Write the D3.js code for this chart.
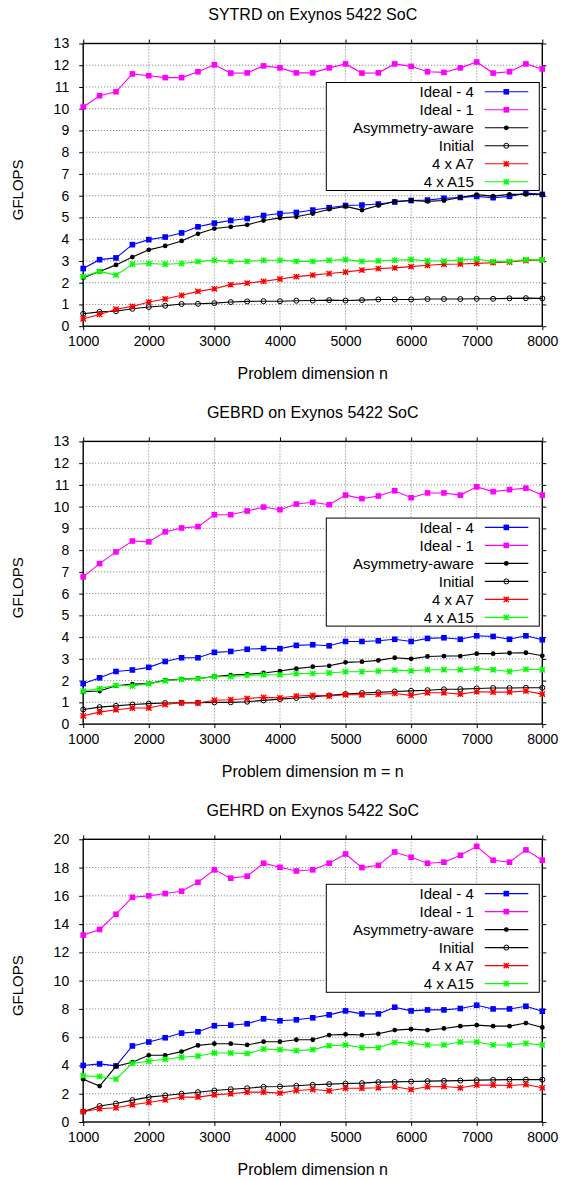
<!DOCTYPE html>
<html>
<head>
<meta charset="utf-8">
<script src="https://cdn.jsdelivr.net/npm/d3@7"></script>
<style>
  body { margin: 0; background: #fff; }
  svg { display: block; font-family: 'Liberation Sans', Arial, Helvetica, sans-serif; }
  .grid line { stroke: #777; stroke-dasharray: 1,2; stroke-width: 1; }
</style>
</head>
<body>
<svg id="chart" width="565" height="1179"></svg>
<script>
// problem dimension (x axis), shared by all three panels
const dims = [1000, 1250, 1500, 1750, 2000, 2250, 2500, 2750, 3000, 3250, 3500, 3750, 4000, 4250,
  4500, 4750, 5000, 5250, 5500, 5750, 6000, 6250, 6500, 6750, 7000, 7250, 7500, 7750, 8000];

const seriesNames = ['Ideal - 4', 'Ideal - 1', 'Asymmetry-aware', 'Initial', '4 x A7', '4 x A15'];

// SYTRD
const sytrdIdeal4 = [2.65, 3.06, 3.14, 3.75, 3.98, 4.1, 4.29, 4.57, 4.74, 4.86, 4.95, 5.09, 5.18, 5.23,
  5.34, 5.45, 5.55, 5.57, 5.62, 5.71, 5.78, 5.8, 5.88, 5.92, 5.97, 5.91, 5.97, 6.12, 6.06];
const sytrdIdeal1 = [10.08, 10.6, 10.78, 11.6, 11.52, 11.43, 11.43, 11.7, 12.02, 11.64, 11.65, 11.97, 11.88, 11.65,
  11.65, 11.88, 12.06, 11.64, 11.65, 12.06, 11.95, 11.7, 11.67, 11.88, 12.15, 11.64, 11.7, 12.06, 11.83];
const sytrdAsym = [2.23, 2.52, 2.82, 3.18, 3.51, 3.69, 3.92, 4.25, 4.49, 4.57, 4.66, 4.86, 4.98, 5.03,
  5.18, 5.38, 5.51, 5.34, 5.55, 5.74, 5.78, 5.74, 5.78, 5.92, 6.05, 5.98, 6.06, 6.06, 6.06];
const sytrdInitial = [0.57, 0.66, 0.69, 0.8, 0.88, 0.94, 1.02, 1.03, 1.06, 1.11, 1.14, 1.15, 1.15, 1.17,
  1.18, 1.2, 1.18, 1.2, 1.23, 1.23, 1.23, 1.25, 1.25, 1.25, 1.26, 1.26, 1.28, 1.29, 1.28];
const sytrdA7 = [0.34, 0.54, 0.78, 0.91, 1.11, 1.25, 1.42, 1.6, 1.72, 1.91, 1.98, 2.06, 2.17, 2.28,
  2.35, 2.42, 2.49, 2.58, 2.65, 2.68, 2.74, 2.8, 2.85, 2.86, 2.89, 2.92, 2.95, 3.02, 3.05];
const sytrdA15 = [2.28, 2.52, 2.35, 2.85, 2.88, 2.85, 2.88, 2.97, 3.03, 2.97, 2.98, 3.03, 3.03, 2.98,
  2.98, 3.03, 3.06, 2.98, 3.0, 3.03, 3.06, 3.01, 3.0, 3.05, 3.09, 2.97, 2.98, 3.06, 3.05];

// GEBRD
const gebrdIdeal4 = [1.86, 2.13, 2.42, 2.49, 2.61, 2.88, 3.05, 3.05, 3.3, 3.34, 3.44, 3.48, 3.47, 3.62,
  3.65, 3.6, 3.8, 3.8, 3.83, 3.9, 3.8, 3.94, 3.97, 3.9, 4.06, 4.03, 3.9, 4.06, 3.88];
const gebrdIdeal1 = [6.77, 7.38, 7.92, 8.42, 8.38, 8.84, 9.02, 9.08, 9.63, 9.63, 9.8, 9.98, 9.86, 10.12,
  10.2, 10.09, 10.53, 10.37, 10.49, 10.73, 10.41, 10.63, 10.63, 10.53, 10.91, 10.69, 10.78, 10.85, 10.53];
const gebrdAsym = [1.49, 1.52, 1.76, 1.84, 1.86, 2.01, 2.07, 2.1, 2.19, 2.25, 2.29, 2.35, 2.44, 2.55,
  2.64, 2.68, 2.84, 2.87, 2.93, 3.05, 3.0, 3.11, 3.13, 3.13, 3.24, 3.24, 3.27, 3.28, 3.14];
const gebrdInitial = [0.67, 0.78, 0.84, 0.9, 0.94, 0.97, 0.98, 0.98, 1.0, 1.0, 1.03, 1.09, 1.15, 1.2,
  1.26, 1.32, 1.38, 1.43, 1.46, 1.5, 1.53, 1.56, 1.6, 1.61, 1.64, 1.66, 1.66, 1.67, 1.67];
const gebrdA7 = [0.38, 0.55, 0.66, 0.74, 0.74, 0.9, 0.98, 0.97, 1.1, 1.12, 1.18, 1.23, 1.21, 1.29,
  1.32, 1.29, 1.35, 1.35, 1.37, 1.41, 1.32, 1.44, 1.44, 1.38, 1.49, 1.47, 1.47, 1.52, 1.38];
const gebrdA15 = [1.52, 1.63, 1.78, 1.75, 1.86, 1.99, 2.06, 2.09, 2.18, 2.19, 2.24, 2.27, 2.27, 2.32,
  2.33, 2.35, 2.41, 2.41, 2.44, 2.48, 2.45, 2.5, 2.5, 2.5, 2.55, 2.5, 2.42, 2.52, 2.5];

// GEHRD
const gehrdIdeal4 = [4.0, 4.11, 3.97, 5.38, 5.66, 5.96, 6.29, 6.38, 6.81, 6.85, 6.95, 7.3, 7.16, 7.23,
  7.37, 7.58, 7.86, 7.65, 7.65, 8.12, 7.86, 7.93, 7.93, 8.03, 8.26, 8.0, 8.0, 8.19, 7.84];
const gehrdIdeal1 = [13.22, 13.62, 14.7, 15.9, 16.0, 16.16, 16.33, 16.96, 17.84, 17.25, 17.39, 18.31, 18.02, 17.76,
  17.84, 18.31, 18.96, 18.0, 18.16, 19.1, 18.73, 18.31, 18.38, 18.87, 19.5, 18.52, 18.38, 19.25, 18.52];
const gehrdAsym = [3.03, 2.54, 3.94, 4.23, 4.72, 4.72, 4.98, 5.42, 5.54, 5.54, 5.45, 5.68, 5.68, 5.82,
  5.82, 6.15, 6.2, 6.15, 6.24, 6.5, 6.57, 6.5, 6.62, 6.78, 6.85, 6.78, 6.78, 7.0, 6.69];
const gehrdInitial = [0.73, 1.13, 1.31, 1.55, 1.76, 1.88, 2.0, 2.11, 2.23, 2.32, 2.39, 2.49, 2.51, 2.56,
  2.63, 2.68, 2.72, 2.75, 2.82, 2.84, 2.86, 2.89, 2.91, 2.93, 2.96, 2.98, 3.0, 3.0, 3.0];
const gehrdA7 = [0.73, 0.94, 1.01, 1.22, 1.38, 1.57, 1.76, 1.76, 1.92, 2.0, 2.11, 2.11, 2.04, 2.23,
  2.3, 2.21, 2.39, 2.39, 2.42, 2.49, 2.3, 2.49, 2.51, 2.42, 2.61, 2.61, 2.58, 2.65, 2.42];
const gehrdA15 = [3.26, 3.22, 3.03, 4.15, 4.3, 4.44, 4.58, 4.67, 4.88, 4.88, 4.84, 5.16, 5.12, 5.05,
  5.12, 5.4, 5.45, 5.26, 5.26, 5.63, 5.56, 5.45, 5.45, 5.66, 5.66, 5.45, 5.45, 5.56, 5.45];

const xTicks = [1000, 2000, 3000, 4000, 5000, 6000, 7000, 8000];

const panels = [
  { title: 'SYTRD on Exynos 5422 SoC', xlabel: 'Problem dimension n', yMax: 13, yStep: 1, keyTop: 39,
    series: [sytrdIdeal4, sytrdIdeal1, sytrdAsym, sytrdInitial, sytrdA7, sytrdA15] },
  { title: 'GEBRD on Exynos 5422 SoC', xlabel: 'Problem dimension m = n', yMax: 13, yStep: 1, keyTop: 76.7,
    series: [gebrdIdeal4, gebrdIdeal1, gebrdAsym, gebrdInitial, gebrdA7, gebrdA15] },
  { title: 'GEHRD on Exynos 5422 SoC', xlabel: 'Problem dimension n', yMax: 20, yStep: 2, keyTop: 45,
    series: [gehrdIdeal4, gehrdIdeal1, gehrdAsym, gehrdInitial, gehrdA7, gehrdA15] },
];

// style per series: colour + point type
const styles = [
  { color: '#0000ff', mark: 'square' },
  { color: '#ff00ff', mark: 'square' },
  { color: '#000000', mark: 'dot' },
  { color: '#000000', mark: 'ring' },
  { color: '#ff0000', mark: 'star' },
  { color: '#00ff00', mark: 'star' },
];

const margin = { left: 83.2, right: 565 - 542.3, top: 43.5 };
const plotW = 542.3 - 83.2;
const plotH = 282.7;
const panelStep = 397.9;

const svg = d3.select('#chart');

function drawMark(g, type, color, x, y) {
  if (type === 'square') {
    g.append('rect').attr('x', x - 2.8).attr('y', y - 2.8).attr('width', 5.6).attr('height', 5.6)
      .attr('fill', color);
  } else if (type === 'dot') {
    g.append('circle').attr('cx', x).attr('cy', y).attr('r', 2.4).attr('fill', color);
  } else if (type === 'ring') {
    g.append('circle').attr('cx', x).attr('cy', y).attr('r', 2.5)
      .attr('fill', 'none').attr('stroke', color).attr('stroke-width', 1);
  } else {
    const s = 2.7;
    g.append('path')
      .attr('d', `M${x - s},${y}H${x + s}M${x},${y - s}V${y + s}M${x - s},${y - s}L${x + s},${y + s}M${x - s},${y + s}L${x + s},${y - s}`)
      .attr('stroke', color).attr('stroke-width', 1.3).attr('fill', 'none');
  }
}

panels.forEach((p, i) => {
  const top = margin.top + i * panelStep;
  const g = svg.append('g').attr('transform', `translate(${margin.left}, ${top})`);

  const x = d3.scaleLinear().domain([1000, 8000]).range([0, plotW]);
  const y = d3.scaleLinear().domain([0, p.yMax]).range([plotH, 0]);
  const yTicks = d3.range(0, p.yMax + 0.001, p.yStep);

  // grid
  const grid = g.append('g').attr('class', 'grid');
  grid.selectAll('.gx').data(xTicks.slice(1, -1)).join('line')
    .attr('x1', (d) => x(d)).attr('x2', (d) => x(d)).attr('y1', 0).attr('y2', plotH);
  grid.selectAll('.gy').data(yTicks.slice(1, -1)).join('line')
    .attr('x1', 0).attr('x2', plotW).attr('y1', (d) => y(d)).attr('y2', (d) => y(d));

  // axes with outward ticks, mirrored
  const axB = g.append('g').attr('transform', `translate(0, ${plotH})`)
    .call(d3.axisBottom(x).tickValues(xTicks).tickSize(4).tickPadding(6).tickFormat(d3.format('d')));
  const axT = g.append('g').call(d3.axisTop(x).tickValues(xTicks).tickSize(4).tickFormat(''));
  const axL = g.append('g')
    .call(d3.axisLeft(y).tickValues(yTicks).tickSize(4).tickPadding(10).tickFormat(d3.format('d')));
  const axR = g.append('g').attr('transform', `translate(${plotW}, 0)`)
    .call(d3.axisRight(y).tickValues(yTicks).tickSize(4).tickFormat(''));
  [axB, axT, axL, axR].forEach((a) => {
    a.select('.domain').remove();
    a.selectAll('.tick line').attr('stroke', '#000').attr('stroke-width', 1);
    a.selectAll('.tick text').attr('fill', '#000')
      .style('font-size', '14px').style('font-family', "'Liberation Sans', Arial, sans-serif");
  });
  axB.selectAll('.tick text').attr('dy', '0.71em');

  g.append('rect').attr('width', plotW).attr('height', plotH)
    .attr('fill', 'none').attr('stroke', '#000').attr('stroke-width', 1.4);

  // series
  const line = d3.line().x((d) => x(d[0])).y((d) => y(d[1]));
  p.series.forEach((vals, k) => {
    const st = styles[k];
    const pts = dims.map((d, j) => [d, vals[j]]);
    const sg = g.append('g');
    sg.append('path').datum(pts).attr('d', line)
      .attr('fill', 'none').attr('stroke', st.color).attr('stroke-width', 1.1);
    pts.forEach((pt) => drawMark(sg, st.mark, st.color, x(pt[0]), y(pt[1])));
  });

  // legend
  const kw = 213;
  const kh = 108;
  const key = g.append('g').attr('transform', `translate(${plotW - 3 - kw}, ${p.keyTop})`);
  key.append('rect').attr('width', kw).attr('height', kh)
    .attr('fill', '#fff').attr('stroke', '#000').attr('stroke-width', 1);
  seriesNames.forEach((name, k) => {
    const ry = 9.3 + k * 18;
    const st = styles[k];
    key.append('text').attr('x', 147.5).attr('y', ry).attr('dy', '0.36em')
      .attr('text-anchor', 'end').style('font-size', '15px').text(name);
    key.append('line').attr('x1', 158.5).attr('x2', 202).attr('y1', ry).attr('y2', ry)
      .attr('stroke', st.color).attr('stroke-width', 1.1);
    drawMark(key, st.mark, st.color, 180, ry);
  });

  // titles
  g.append('text').attr('x', plotW / 2).attr('y', -29.5).attr('dy', '0.36em')
    .attr('text-anchor', 'middle').style('font-size', '16px').text(p.title);
  g.append('text').attr('x', plotW / 2).attr('y', plotH + 47).attr('dy', '0.36em')
    .attr('text-anchor', 'middle').style('font-size', '16px').text(p.xlabel);
  g.append('text')
    .attr('transform', `translate(${18 - margin.left}, ${plotH / 2 + 5}) rotate(-90)`)
    .attr('dy', '0.36em').attr('text-anchor', 'middle').style('font-size', '15px').text('GFLOPS');
});
</script>
</body>
</html>
